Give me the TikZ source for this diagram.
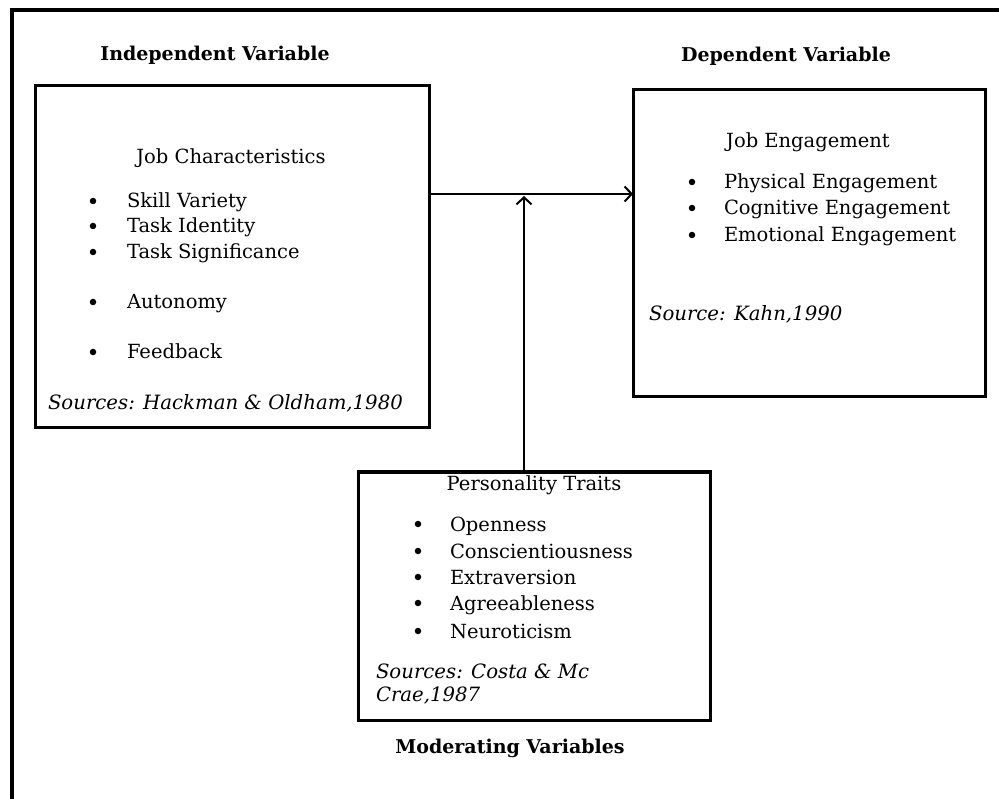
\documentclass[tikz,border=0pt]{standalone}
\usepackage{fontspec}
\setmainfont{DejaVu Serif}
\usetikzlibrary{arrows.meta,calc}
\begin{document}
\begin{tikzpicture}[x=1pt,y=-1pt,
  every node/.style={inner sep=0pt,outer sep=0pt},
  box/.style={draw,line width=3pt,minimum width=#1},
  head/.style={anchor=base,font=\fontsize{19}{22}\selectfont\bfseries},
  title/.style={anchor=base,font=\fontsize{19.5}{22}\selectfont},
  item/.style={anchor=base west,font=\fontsize{19.5}{22}\selectfont},
  src/.style={anchor=base west,font=\fontsize{19.7}{22}\selectfont\itshape},
  bul/.style={circle,fill=black,minimum size=6.5pt},
  arr/.style={line width=2pt,-{Straight Barb[length=7pt,width=15pt,line width=2pt]}}
]
\useasboundingbox (0,0) rectangle (999,799);
\fill[white] (0,0) rectangle (999,799);
% outer frame (top and left edges visible)
\draw[line width=4pt] (12,820) -- (12,10) -- (1020,10);

% boxes
\node[box=394pt,minimum height=342pt] (left) at (232,257) {};
\node[box=352pt,minimum height=307pt] (right) at (809,243.5) {};
\node[box=352pt,minimum height=248pt] (bottom) at (534,596) {};

% headings
\node[head] (hl) at (215,61) {Independent Variable};
\node[head] (hr) at (786,62) {Dependent Variable};
\node[head] (hb) at (510,753) {Moderating Variables};

% left box contents
\node[title] (lt) at (231,164) {Job Characteristics};
\node[bul] (lb1) at (93,201) {};
\node[item] (li1) at (127,208) {Skill Variety};
\node[bul] (lb2) at (93,226) {};
\node[item] (li2) at (127,233) {Task Identity};
\node[bul] (lb3) at (93,252) {};
\node[item] (li3) at (127,259) {Task Significance};
\node[bul] (lb4) at (93,302) {};
\node[item] (li4) at (127,309) {Autonomy};
\node[bul] (lb5) at (93,352) {};
\node[item] (li5) at (127,359) {Feedback};
\node[src] (ls) at (48,410) {Sources: Hackman \& Oldham,1980};

% right box contents
\node[title] (rt) at (808,148) {Job Engagement};
\node[bul] (rb1) at (692,182) {};
\node[item] (ri1) at (724,189) {Physical Engagement};
\node[bul] (rb2) at (692,208) {};
\node[item] (ri2) at (724,215) {Cognitive Engagement};
\node[bul] (rb3) at (692,235) {};
\node[item] (ri3) at (724,242) {Emotional Engagement};
\node[src] (rs) at (649,321) {Source: Kahn,1990};

% bottom box contents
\node[title] (bt) at (534,490) {Personality Traits};
\node[bul] (bb1) at (418,524) {};
\node[item] (bi1) at (450,531) {Openness};
\node[bul] (bb2) at (418,551) {};
\node[item] (bi2) at (450,558) {Conscientiousness};
\node[bul] (bb3) at (418,577) {};
\node[item] (bi3) at (450,584) {Extraversion};
\node[bul] (bb4) at (418,603) {};
\node[item] (bi4) at (450,610) {Agreeableness};
\node[bul] (bb5) at (418,631) {};
\node[item] (bi5) at (450,638) {Neuroticism};
\node[src] (bs1) at (376,678) {Sources: Costa \& Mc};
\node[src] (bs2) at (376,701) {Crae,1987};

% connectors
\coordinate (hline) at (0,194);
\coordinate (vx) at (524,0);
\draw[arr] (left.east |- hline) -- (right.west |- hline);
\draw[arr] (vx |- bottom.north) -- ($(vx |- hline)+(0,2)$);
\end{tikzpicture}
\end{document}
